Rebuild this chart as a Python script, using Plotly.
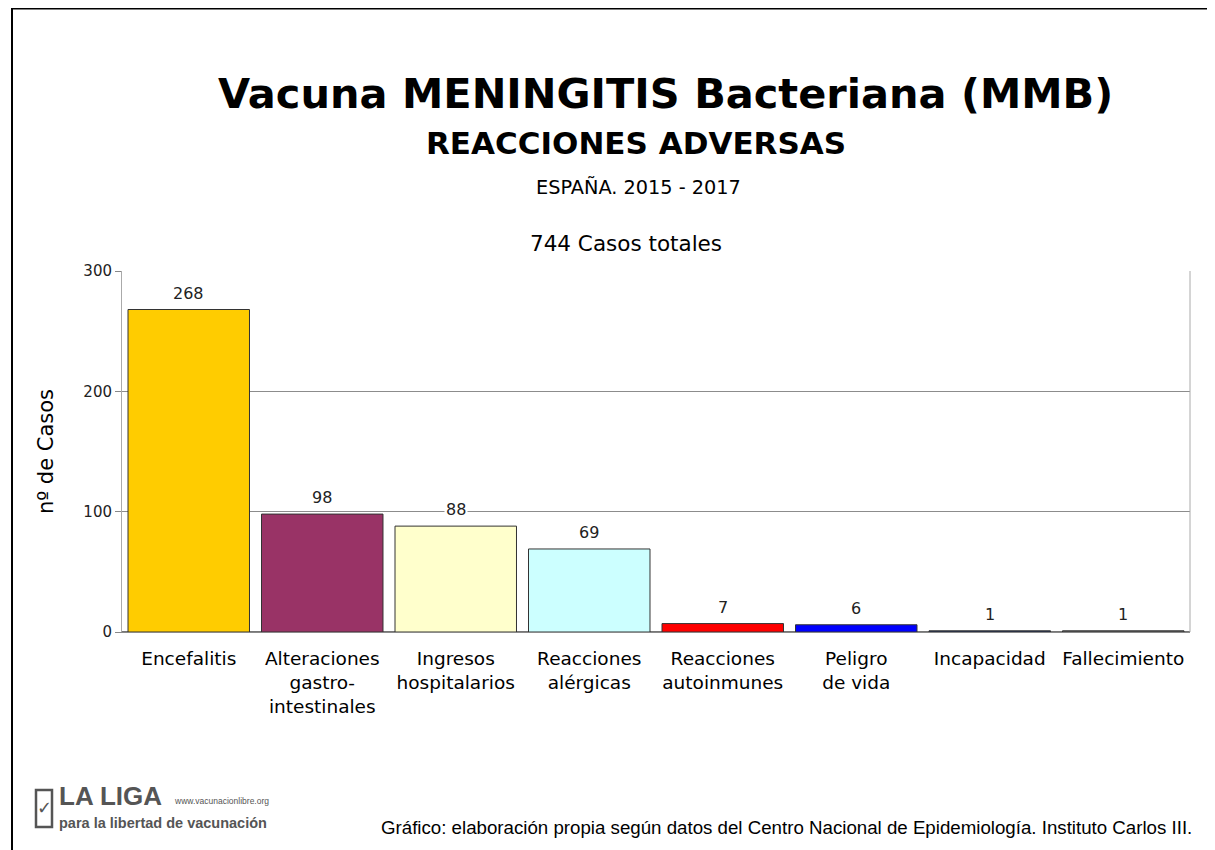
import plotly.graph_objects as go

categories = ["Encefalitis", "Alteraciones<br>gastro-<br>intestinales", "Ingresos<br>hospitalarios",
              "Reacciones<br>alérgicas", "Reacciones<br>autoinmunes", "Peligro<br>de vida",
              "Incapacidad", "Fallecimiento"]
values = [268, 98, 88, 69, 7, 6, 1, 1]
colors = ["#FFCC00", "#993366", "#FFFFCC", "#CCFFFF", "#FF0000", "#0000FF", "#1F3366", "#6E6E6E"]
y_ticks = [0, 100, 200, 300]

FONT = "DejaVu Sans, Arial, sans-serif"

# plot area in page pixels (page has an 8px body margin)
PX0, PX1, PY0, PY1 = 122, 1190, 271, 632
OFF = 8
W, H = 1207, 842

def px(x):
    return (x - PX0) / (PX1 - PX0)

def py(y):
    return (PY1 - y) / (PY1 - PY0)

fig = go.Figure()
fig.add_trace(go.Bar(
    x=categories, y=values,
    marker=dict(color=colors, line=dict(color="#333333", width=1)),
    width=0.91, showlegend=False, hoverinfo="y",
))

for c, v in zip(categories, values):
    fig.add_annotation(x=c, y=v, text=str(v), showarrow=False, yanchor="bottom", yshift=5,
                       font=dict(family=FONT, size=16, color="#222222"), bgcolor="white", borderpad=1)

fig.update_layout(
    width=W, height=H,
    margin=dict(l=PX0 - OFF, r=W - (PX1 - OFF), t=PY0 - OFF, b=H - (PY1 - OFF)),
    paper_bgcolor="white", plot_bgcolor="white",
    font=dict(family=FONT, color="black"),
    bargap=0.09,
)
fig.update_xaxes(
    tickfont=dict(family=FONT, size=18.5, color="black"), ticklabelstandoff=10,
    showline=True, linecolor="#888888", linewidth=1,
    ticks="", showgrid=False,
)
fig.update_yaxes(
    range=[0, 300], tickvals=y_ticks, tickfont=dict(family=FONT, size=15, color="#222222"),
    showgrid=True, gridcolor="#8C8C8C", gridwidth=1,
    showline=True, linecolor="#AAAAAA", linewidth=1, ticks="outside", ticklen=6, tickcolor="#888888",
    zeroline=True, zerolinecolor="#777777", zerolinewidth=2,
    title=dict(text="nº de Casos", font=dict(family=FONT, size=21, color="black"), standoff=24),
)

# right border of plot area
fig.add_shape(type="line", xref="paper", yref="paper", x0=1, x1=1, y0=0, y1=1,
              line=dict(color="#AAAAAA", width=1))
# page border (top and left)
fig.add_shape(type="line", xref="paper", yref="paper", x0=px(11), x1=px(1230),
              y0=py(8.5), y1=py(8.5), line=dict(color="black", width=2))
fig.add_shape(type="line", xref="paper", yref="paper", x0=px(12), x1=px(12),
              y0=py(8.5), y1=py(860), line=dict(color="black", width=2))

def add_text(text, x, y, size, bold=False, color="black", family=FONT, xanchor="center"):
    fig.add_annotation(text=f"<b>{text}</b>" if bold else text, xref="paper", yref="paper",
                       x=px(x), y=py(y), showarrow=False,
                       xanchor=xanchor, yanchor="middle",
                       font=dict(family=family, size=size, color=color))

add_text("Vacuna MENINGITIS Bacteriana (MMB)", 665, 93, 41.5, bold=True)
add_text("REACCIONES ADVERSAS", 636, 143, 31, bold=True)
add_text("ESPAÑA. 2015 - 2017", 638, 187, 19.3)
add_text("744 Casos totales", 626, 243, 21.5)
add_text("Gráfico: elaboración propia según datos del Centro Nacional de Epidemiología. Instituto Carlos III.",
         786, 827, 18.7, family="Liberation Sans, Arial, sans-serif")
# logo
add_text("LA LIGA", 57, 796, 26, bold=True, color="#555555", family="Liberation Sans, Arial", xanchor="left")
add_text("www.vacunacionlibre.org", 172, 801, 8.5, color="#555555", family="Liberation Sans, Arial", xanchor="left")
add_text("para la libertad de vacunación", 57, 823, 14.5, bold=True, color="#555555",
         family="Liberation Sans, Arial", xanchor="left")
fig.add_shape(type="rect", xref="paper", yref="paper",
              x0=px(36), x1=px(52), y0=py(790), y1=py(827),
              line=dict(color="#555555", width=2.5))
add_text("✓", 44, 807, 18, bold=True, color="#555555")

fig.write_html("out.html")
